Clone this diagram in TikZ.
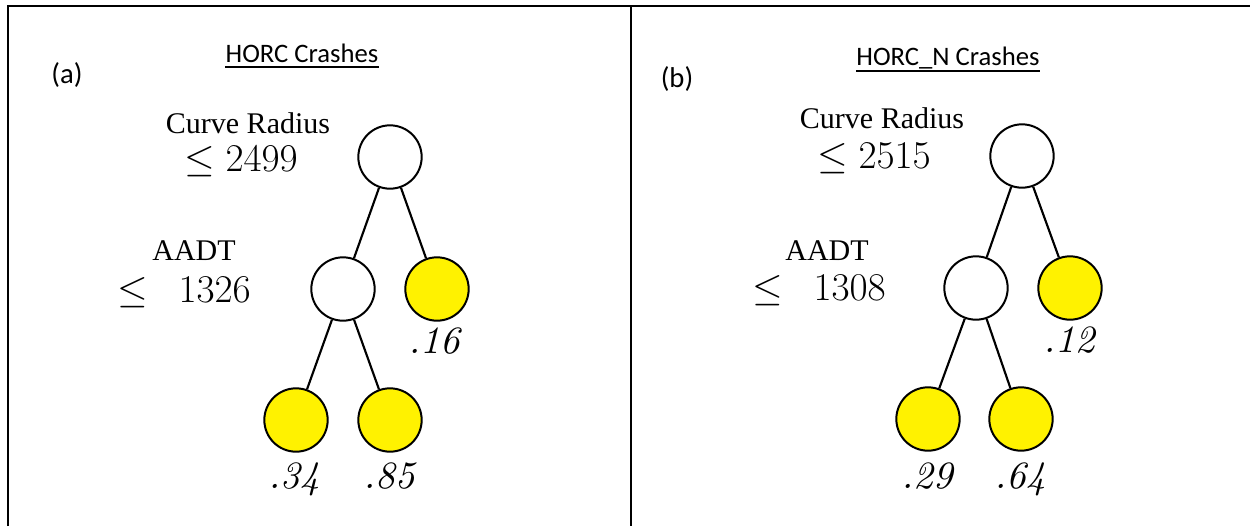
\RequirePackage{fix-cm}
\documentclass[tikz,border=0pt]{standalone}
\usepackage{fontspec}
\newfontfamily\calibrifont{Carlito}
\newfontfamily\timesfont{Liberation Serif}
\DeclareFontFamily{OT1}{cmrten}{}
\DeclareFontShape{OT1}{cmrten}{m}{n}{<-> cmr10}{}
\DeclareFontShape{OT1}{cmrten}{m}{it}{<-> cmti10}{}
\DeclareSymbolFont{operators}{OT1}{cmrten}{m}{n}
\newcommand{\tenit}{\fontencoding{OT1}\fontfamily{cmrten}\fontshape{it}}
\definecolor{leafyellow}{RGB}{255,242,0}
\tikzset{
  innernode/.style={circle, draw=black, line width=1.5pt, minimum size=47.5pt, inner sep=0pt, fill=white},
  leafnode/.style={innernode, fill=leafyellow},
  edgeline/.style={line width=1.6pt},
  frameline/.style={line width=1.5pt},
  uline/.style={line width=1.1pt},
  lab/.style={anchor=base, inner sep=0pt, font=\calibrifont\fontsize{21.5}{24}\selectfont},
  ttl/.style={anchor=base, inner sep=0pt, font=\calibrifont\fontsize{20}{24}\selectfont},
  word/.style={anchor=base, inner sep=0pt, font=\timesfont\fontsize{22.5}{26}\selectfont},
  cond/.style={anchor=base, inner sep=0pt, font=\fontsize{29.5}{32}\selectfont},
  prob/.style={anchor=base, inner sep=0pt, font=\tenit\fontsize{29}{31}\selectfont},
}
\begin{document}
\begin{tikzpicture}[x=0.75pt,y=-0.75pt]
\useasboundingbox (0,0) rectangle (1250,526);
% frame
\coordinate (tl) at (8,6);
\coordinate (tr) at (1250,6);
\coordinate (bl) at (8,526);
\coordinate (mt) at (631,6);
\coordinate (mb) at (631,526);
\draw[frameline] (bl) -- (tl) -- (tr);
\draw[frameline] (mt) -- (mb);

% ---------- panel (a) ----------
\node[lab] (pa) at (67,83) {(a)};
\node[ttl] (ta) at (302,62) {HORC Crashes};
\draw[uline] ([yshift=-3.8pt]ta.base west) -- ([yshift=-3.8pt]ta.base east);

\node[word] (cra) at (248,133) {Curve Radius};
\node[cond] (c1a) at (241,171) {$\leq 2499$};
\node[word] (aaa) at (194,260) {AADT};
\node[cond] (c2a) at (184,302) {$\leq\hspace{0.5em}1326$};

\node[innernode] (ra) at (390,157) {};
\node[innernode] (ca) at (343,289) {};
\node[leafnode] (la1) at (437,289) {};
\node[leafnode] (la2) at (296,420) {};
\node[leafnode] (la3) at (390,420) {};
\draw[edgeline] (ra) -- (ca);
\draw[edgeline] (ra) -- (la1);
\draw[edgeline] (ca) -- (la2);
\draw[edgeline] (ca) -- (la3);

\node[prob] (pa1) at (434,353) {.16};
\node[prob] (pa2) at (294,488) {.34};
\node[prob] (pa3) at (389,488) {.85};

% ---------- panel (b) ----------
\node[lab] (pb) at (677,87) {(b)};
\node[ttl] (tb) at (948,65) {HORC\_N Crashes};
\draw[uline] ([yshift=-4.6pt]tb.base west) -- ([yshift=-4.6pt]tb.base east);

\node[word] (crb) at (882,128) {Curve Radius};
\node[cond] (c1b) at (874,168) {$\leq 2515$};
\node[word] (aab) at (827,260) {AADT};
\node[cond] (c2b) at (819,300) {$\leq\hspace{0.5em}1308$};

\node[innernode] (rb) at (1022,156) {};
\node[innernode] (cb) at (976,288) {};
\node[leafnode] (lb1) at (1070,288) {};
\node[leafnode] (lb2) at (928,419) {};
\node[leafnode] (lb3) at (1021,419) {};
\draw[edgeline] (rb) -- (cb);
\draw[edgeline] (rb) -- (lb1);
\draw[edgeline] (cb) -- (lb2);
\draw[edgeline] (cb) -- (lb3);

\node[prob] (pb1) at (1069,352) {.12};
\node[prob] (pb2) at (927,488) {.29};
\node[prob] (pb3) at (1020,488) {.64};
\end{tikzpicture}
\end{document}
